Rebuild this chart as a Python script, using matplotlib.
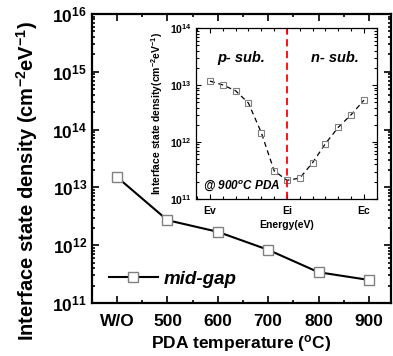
import numpy as np
import matplotlib
matplotlib.use("Agg")
import matplotlib.pyplot as plt
from matplotlib.ticker import FixedLocator, LogLocator, FuncFormatter, NullFormatter, MultipleLocator

plt.rcParams['font.family'] = ['Liberation Sans', 'DejaVu Sans']
plt.rcParams['font.weight'] = 'bold'
plt.rcParams['mathtext.fontset'] = 'custom'
plt.rcParams['mathtext.rm'] = 'Liberation Sans:bold'
plt.rcParams['mathtext.bf'] = 'Liberation Sans:bold'
plt.rcParams['mathtext.it'] = 'Liberation Sans:bold:italic'

# densidade de estados no meio do gap em funcao do PDA
temperaturas = ["W/O", "500", "600", "700", "800", "900"]
dit_midgap = [1.5e13, 2.7e12, 1.7e12, 8.3e11, 3.4e11, 2.5e11]

# perfil de Dit ao longo do gap (amostra com PDA a 900 C)
energia = [0, 1/12, 2/12, 3/12, 4/12, 5/12, 6/12, 7/12, 8/12, 9/12, 10/12, 11/12, 1]
dit_perfil = [1.17e13, 1.0e13, 7.9e12, 4.8e12, 1.45e12, 3.1e11, 2.1e11,
              2.3e11, 4.3e11, 9.3e11, 1.8e12, 3.0e12, 5.4e12]
rotulos_energia = ["Ev", "Ei", "Ec"]


def dez(v, p):
    return r'$\mathbf{10^{%d}}$' % round(np.log10(v))


fig = plt.figure(figsize=(3.93, 3.56), dpi=100)
ax = fig.add_axes([0.234, 0.149, 0.761, 0.812])

x = np.arange(len(temperaturas))
ax.plot(x, dit_midgap, '-', color='black', lw=1.5, marker='s', ms=6.5,
        mec='#808080', mfc='white', mew=1.0, label='mid-gap')
ax.set_yscale('log')
ax.set_ylim(1e11, 1e16)
ax.set_xlim(-0.5, 5.44)
ax.set_xticks(x)
ax.set_xticklabels(temperaturas)
ax.xaxis.set_minor_locator(MultipleLocator(0.5))
ax.yaxis.set_major_locator(LogLocator(base=10, numticks=10))
ax.yaxis.set_minor_locator(LogLocator(base=10, subs=np.arange(2, 10), numticks=10))
ax.yaxis.set_major_formatter(FuncFormatter(dez))
ax.yaxis.set_minor_formatter(NullFormatter())
ax.tick_params(which='both', direction='in', top=True, right=True, labelsize=12.5, width=1.2)
ax.tick_params(which='major', length=5)
ax.tick_params(which='minor', length=2.5)
ax.tick_params(axis='x', pad=8)
for s in ax.spines.values():
    s.set_linewidth(1.6)
ax.set_xlabel(r'PDA temperature ($\mathbf{^{o}}$C)', fontsize=12.5, fontweight='bold', labelpad=3)
ax.set_ylabel(r'Interface state density (cm$\mathbf{^{-2}}$eV$\mathbf{^{-1}}$)',
              fontsize=14.5, fontweight='bold')
ax.yaxis.set_label_coords(-0.175, 0.42)
leg = ax.legend(loc='lower left', bbox_to_anchor=(0.0, -0.005), frameon=False,
                handlelength=2.6, handletextpad=0.3,
                prop={'size': 13.5, 'weight': 'bold', 'style': 'italic'})

# grafico interno
ins = fig.add_axes([0.499, 0.442, 0.460, 0.479])
ins.plot(energia, dit_perfil, '--', color='black', lw=0.9, dashes=(4, 3),
         marker='s', ms=4.5, mec='#808080', mfc='none', mew=0.8)
ins.axvline(0.5, color='red', ls='--', lw=1.3, dashes=(4, 2.5))
ins.set_yscale('log')
ins.set_ylim(1e11, 1e14)
ins.set_xlim(-0.09, 1.084)
ins.set_xticks([0, 0.5, 1])
ins.set_xticklabels(rotulos_energia)
ins.xaxis.set_minor_locator(MultipleLocator(1/12))
ins.yaxis.set_major_locator(LogLocator(base=10, numticks=10))
ins.yaxis.set_minor_locator(LogLocator(base=10, subs=np.arange(2, 10), numticks=10))
ins.yaxis.set_major_formatter(FuncFormatter(lambda v, p: r'$\mathrm{10^{%d}}$' % round(np.log10(v))))
ins.yaxis.set_minor_formatter(NullFormatter())
ins.tick_params(which='both', direction='in', top=True, right=True, width=0.8)
ins.tick_params(which='major', length=3.5, labelsize=7.5)
ins.tick_params(axis='x', pad=5)
ins.tick_params(which='minor', length=2)
for s in ins.spines.values():
    s.set_linewidth(0.9)
ins.set_xlabel('Energy(eV)', fontsize=7.5, fontweight='bold', labelpad=3)
ins.set_ylabel(r'Interface state density(cm$\mathbf{^{-2}}$eV$\mathbf{^{-1}}$)',
               fontsize=7.5, fontweight='bold', labelpad=3)
ins.text(0.12, 0.80, 'p- sub.', transform=ins.transAxes, fontsize=10.5,
         fontweight='bold', style='italic')
ins.text(0.635, 0.80, 'n- sub.', transform=ins.transAxes, fontsize=10.5,
         fontweight='bold', style='italic')
ins.text(0.04, 0.05, r'@ 900$\mathit{^{o}}$C PDA', transform=ins.transAxes, fontsize=8.5,
         fontweight='bold', style='italic')

fig.savefig('out.png', dpi=100)
